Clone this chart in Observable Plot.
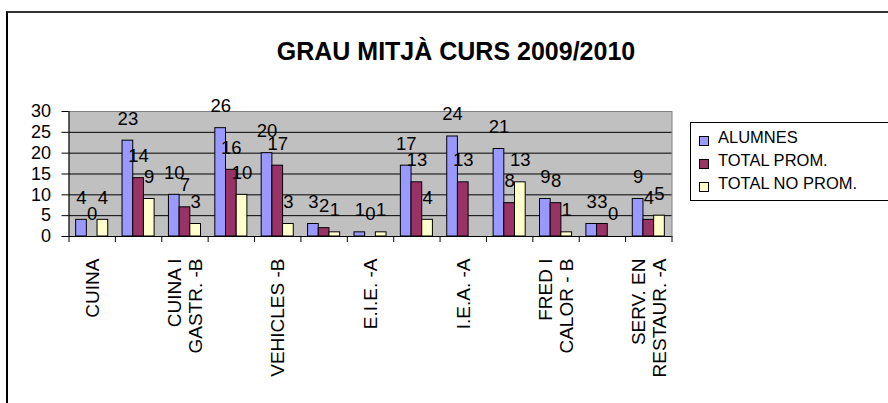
<!DOCTYPE html>
<html>
<head>
<meta charset="utf-8">
<script src="https://cdn.jsdelivr.net/npm/d3@7"></script>
<script src="https://cdn.jsdelivr.net/npm/@observablehq/plot@0.6"></script>
<style>
  html, body { margin: 0; padding: 0; background: #fff; }
  #wrap { position: relative; width: 888px; height: 403px; overflow: hidden; font-family: "Liberation Sans", Arial, sans-serif; color: #000; }
  #border { position: absolute; left: 6px; top: 11px; width: 1000px; height: 1000px; border-top: 2px solid #333; border-left: 2px solid #000; box-sizing: border-box; }
  #chart { position: absolute; left: 0; top: 0; }
  #title { position: absolute; left: 0; width: 912px; top: 39px; text-align: center; font-weight: bold; font-size: 25px; line-height: 25px; white-space: nowrap; }
  #legend { position: absolute; left: 690px; top: 122px; width: 240px; border: 1px solid #000; padding: 3px 0 5px 0; background: #fff; }
  .row { position: relative; height: 23px; line-height: 23px; font-size: 16.5px; white-space: nowrap; }
  .sw { position: absolute; left: 8px; top: 10px; width: 8px; height: 8px; border: 1px solid #000; }
  .lab { position: absolute; left: 27px; top: 0; }
</style>
</head>
<body>
<div id="wrap">
  <div id="border"></div>
  <div id="chart"></div>
  <div id="title"></div>
  <div id="legend"></div>
</div>
<script>
const title = "GRAU MITJÀ CURS 2009/2010";
const tickLabels = ["CUINA", "", "CUINA I\nGASTR. -B", "", "VEHICLES -B", "", "E.I.E. -A", "", "I.E.A. -A", "", "FRED I\nCALOR - B", "", "SERV. EN\nRESTAUR. -A"];
const series = ["ALUMNES", "TOTAL PROM.", "TOTAL NO PROM."];
const alumnes     = [4, 23, 10, 26, 20, 3, 1, 17, 24, 21, 9, 3, 9];
const totalProm   = [0, 14, 7, 16, 17, 2, 0, 13, 13, 8, 8, 3, 4];
const totalNoProm = [4, 9, 3, 10, 3, 1, 1, 4, null, 13, 1, 0, 5];
const colors = ["#9999ff", "#993366", "#ffffcc"];
const yTicks = [0, 5, 10, 15, 20, 25, 30];

const values = [alumnes, totalProm, totalNoProm];
const rows = [];
tickLabels.forEach((_, i) => series.forEach((s, k) => {
  const v = values[k][i];
  if (v != null) rows.push({i, series: s, value: v});
}));

const n = tickLabels.length;
const inner = d3.scaleBand().domain(series).range([0, 1]).paddingInner(0).paddingOuter(0.67);
const x1 = d => d.i + inner(d.series);
const x2 = d => d.i + inner(d.series) + inner.bandwidth();
const xc = d => d.i + inner(d.series) + inner.bandwidth() / 2;

const labelPos = tickLabels.map((t, i) => t ? i + 0.5 : null).filter(v => v != null);

const plot = Plot.plot({
  width: 888,
  height: 403,
  marginLeft: 68.5,
  marginRight: 216.5,
  marginTop: 111,
  marginBottom: 167,
  style: {fontFamily: "'Liberation Sans', Arial, sans-serif", fontSize: "18px", color: "#000", background: "transparent", overflow: "visible"},
  x: {domain: [0, n]},
  y: {domain: [0, 30]},
  color: {domain: series, range: colors},
  marks: [
    Plot.frame({fill: "#c0c0c0", stroke: "#808080"}),
    Plot.ruleY(yTicks.filter(v => v > 0 && v < 30), {stroke: "#000"}),
    Plot.rectY(rows, {x1, x2, y: "value", fill: "series", stroke: "#000", strokeWidth: 1}),
    Plot.ruleY([0], {stroke: "#000"}),
    Plot.ruleX([0], {stroke: "#000"}),
    Plot.axisY({ticks: yTicks, tickSize: 7, tickPadding: 11, fontSize: 18, label: null, tickFormat: d => String(d)}),
    Plot.axisX({ticks: d3.range(n + 1), tickSize: 6, tickFormat: () => "", label: null}),
    Plot.axisX({ticks: labelPos, tickSize: 0, tickPadding: 22, rotate: -90, textAnchor: "end", lineAnchor: "middle", lineHeight: 1.1, fontSize: 19, label: null, tickFormat: v => tickLabels[Math.floor(v)]}),
    Plot.text(rows, {x: xc, y: "value", text: d => String(d.value), dy: -22, fontSize: 18.5, fill: "#000"})
  ]
});
document.getElementById("chart").appendChild(plot);
document.getElementById("title").textContent = title;

const legend = document.getElementById("legend");
series.forEach((s, k) => {
  const row = document.createElement("div");
  row.className = "row";
  const sw = document.createElement("span");
  sw.className = "sw";
  sw.style.background = colors[k];
  const lab = document.createElement("span");
  lab.className = "lab";
  lab.textContent = s;
  row.appendChild(sw);
  row.appendChild(lab);
  legend.appendChild(row);
});
</script>
</body>
</html>
